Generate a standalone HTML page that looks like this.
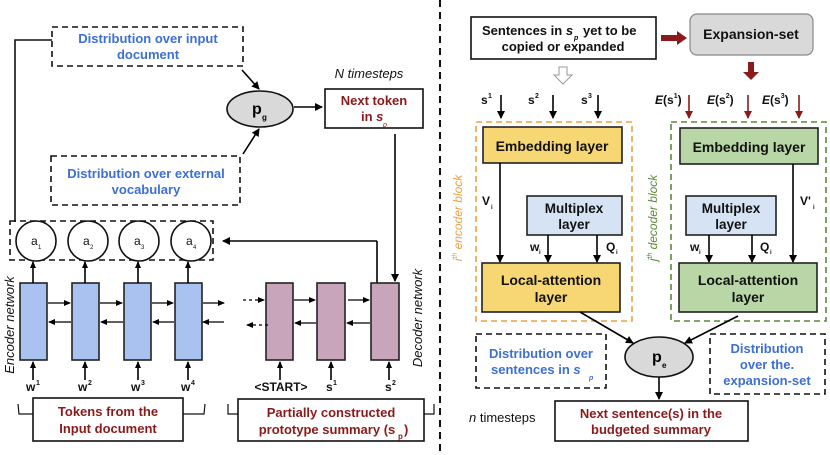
<!DOCTYPE html>
<html><head><meta charset="utf-8"><style>
html,body{margin:0;padding:0;background:#fff;}
svg{display:block;font-family:"Liberation Sans",sans-serif;font-size:13px;}
.b{font-weight:bold;}
.blue{fill:#3d6fd6;font-weight:bold;}
.red{fill:#8b1a1a;font-weight:bold;}
.blk{fill:#111;font-weight:bold;}
</style></head><body>
<svg width="830" height="455" viewBox="0 0 830 455" xmlns="http://www.w3.org/2000/svg">
<defs>
<marker id="ah" markerWidth="8" markerHeight="8" refX="7" refY="4" orient="auto" markerUnits="userSpaceOnUse"><path d="M0,0 L8,4 L0,8z" fill="#000"/></marker>
<marker id="ahs" markerWidth="7" markerHeight="6" refX="6" refY="3" orient="auto" markerUnits="userSpaceOnUse"><path d="M0,0 L7,3 L0,6z" fill="#000"/></marker>
<marker id="ahr" markerWidth="8" markerHeight="8" refX="7" refY="4" orient="auto" markerUnits="userSpaceOnUse"><path d="M0,0 L8,4 L0,8z" fill="#8b1a1a"/></marker>
</defs>

<line x1="440" y1="0" x2="440" y2="455" stroke="#111" stroke-width="2" stroke-dasharray="7,5"/>

<!-- ===== LEFT ===== -->
<rect x="52" y="27" width="191" height="39" fill="none" stroke="#111" stroke-width="1.6" stroke-dasharray="6,4"/>
<text class="blue" x="148" y="43" text-anchor="middle">Distribution over input</text>
<text class="blue" x="148" y="59" text-anchor="middle">document</text>
<polyline points="52,40 15,40 15,222" fill="none" stroke="#111" stroke-width="1.6"/>

<rect x="51" y="156" width="189" height="49" fill="none" stroke="#111" stroke-width="1.6" stroke-dasharray="6,4"/>
<text class="blue" x="146" y="178" text-anchor="middle">Distribution over external</text>
<text class="blue" x="146" y="194" text-anchor="middle">vocabulary</text>

<line x1="242" y1="70" x2="259" y2="89" stroke="#000" stroke-width="1.6" marker-end="url(#ah)"/>
<line x1="243" y1="154" x2="259" y2="129" stroke="#000" stroke-width="1.6" marker-end="url(#ah)"/>
<ellipse cx="260" cy="109" rx="33" ry="18" fill="#d9d9d9" stroke="#111" stroke-width="1.6"/>
<text x="252" y="114" class="b" font-size="16">p</text><text x="262" y="120" class="b" font-size="8">g</text>
<line x1="294" y1="107" x2="322" y2="107" stroke="#000" stroke-width="1.6" marker-end="url(#ah)"/>

<text x="369" y="78" text-anchor="middle" font-size="13" font-style="italic" fill="#111">N timesteps</text>
<rect x="325" y="89" width="98" height="39" fill="#fff" stroke="#111" stroke-width="1.6"/>
<text class="red" x="374" y="105" text-anchor="middle">Next token</text>
<text class="red" x="361" y="121">in <tspan font-style="italic">s</tspan></text>
<text x="383" y="127" fill="#8b1a1a" font-size="7" font-style="italic">p</text>
<line x1="395" y1="134" x2="395" y2="281" stroke="#000" stroke-width="1.6" marker-end="url(#ah)"/>

<rect x="10" y="221" width="203" height="39" fill="none" stroke="#111" stroke-width="1.6" stroke-dasharray="6,4"/>
<g stroke="#111" stroke-width="1.6" fill="#fff">
<circle cx="36" cy="241" r="20"/><circle cx="88" cy="241" r="20"/><circle cx="139" cy="241" r="20"/><circle cx="191" cy="241" r="20"/>
</g>
<g fill="#111"><text x="31" y="245" font-size="12">a</text><text x="38" y="249" font-size="6">1</text>
<text x="83" y="245" font-size="12">a</text><text x="90" y="249" font-size="6">2</text>
<text x="134" y="245" font-size="12">a</text><text x="141" y="249" font-size="6">3</text>
<text x="186" y="245" font-size="12">a</text><text x="193" y="249" font-size="6">4</text></g>

<polyline points="377,283 377,241" fill="none" stroke="#000" stroke-width="1.6"/>
<line x1="377" y1="241" x2="223" y2="241" stroke="#000" stroke-width="1.6" marker-end="url(#ah)"/>

<g fill="#aac2ef" stroke="#222" stroke-width="1.6">
<rect x="20" y="283" width="27" height="77"/><rect x="72" y="283" width="27" height="77"/><rect x="124" y="283" width="27" height="77"/><rect x="175" y="283" width="27" height="77"/>
</g>
<g stroke="#000" stroke-width="1.6">
<line x1="33" y1="283" x2="33" y2="262" marker-end="url(#ahs)"/><line x1="85" y1="283" x2="85" y2="262" marker-end="url(#ahs)"/><line x1="138" y1="283" x2="138" y2="262" marker-end="url(#ahs)"/><line x1="188" y1="283" x2="188" y2="262" marker-end="url(#ahs)"/>
<line x1="33" y1="380" x2="33" y2="362" marker-end="url(#ahs)"/><line x1="85" y1="380" x2="85" y2="362" marker-end="url(#ahs)"/><line x1="138" y1="380" x2="138" y2="362" marker-end="url(#ahs)"/><line x1="188" y1="380" x2="188" y2="362" marker-end="url(#ahs)"/>
</g>
<g stroke="#000" stroke-width="1.2">
<line x1="48" y1="303" x2="70" y2="303" marker-end="url(#ahs)"/><line x1="100" y1="303" x2="122" y2="303" marker-end="url(#ahs)"/><line x1="152" y1="303" x2="173" y2="303" marker-end="url(#ahs)"/><line x1="203" y1="303" x2="224" y2="303" marker-end="url(#ahs)"/>
<line x1="71" y1="322" x2="49" y2="322" marker-end="url(#ahs)"/><line x1="123" y1="322" x2="101" y2="322" marker-end="url(#ahs)"/><line x1="174" y1="322" x2="153" y2="322" marker-end="url(#ahs)"/><line x1="224" y1="322" x2="203" y2="322" marker-end="url(#ahs)"/>
</g>
<g class="blk"><text x="26" y="391" font-size="12">w</text><text x="36" y="385" font-size="7">1</text>
<text x="78" y="391" font-size="12">w</text><text x="88" y="385" font-size="7">2</text>
<text x="131" y="391" font-size="12">w</text><text x="141" y="385" font-size="7">3</text>
<text x="181" y="391" font-size="12">w</text><text x="191" y="385" font-size="7">4</text></g>
<text transform="translate(14,325) rotate(-90)" text-anchor="middle" font-size="13" font-style="italic" fill="#111">Encoder network</text>

<g fill="#c9a5bc" stroke="#222" stroke-width="1.6">
<rect x="266" y="283" width="27" height="77"/><rect x="317" y="283" width="28" height="77"/><rect x="371" y="283" width="28" height="77"/>
</g>
<g stroke="#000" stroke-width="1.2">
<line x1="243" y1="300" x2="264" y2="300" stroke-dasharray="3,3" marker-end="url(#ahs)"/>
<line x1="268" y1="325" x2="247" y2="325" stroke-dasharray="3,3" marker-end="url(#ahs)"/>
<line x1="294" y1="300" x2="315" y2="300" marker-end="url(#ahs)"/><line x1="348" y1="300" x2="369" y2="300" marker-end="url(#ahs)"/>
<line x1="316" y1="323" x2="295" y2="323" marker-end="url(#ahs)"/><line x1="370" y1="323" x2="347" y2="323" marker-end="url(#ahs)"/>
</g>
<g stroke="#000" stroke-width="1.6">
<line x1="280" y1="380" x2="280" y2="362" marker-end="url(#ahs)"/><line x1="331" y1="380" x2="331" y2="362" marker-end="url(#ahs)"/><line x1="389" y1="380" x2="389" y2="362" marker-end="url(#ahs)"/>
</g>
<text class="blk" x="281" y="391" text-anchor="middle" font-size="12">&lt;START&gt;</text>
<text class="blk" x="326" y="391" font-size="12">s</text><text class="blk" x="333" y="385" font-size="7">1</text>
<text class="blk" x="385" y="391" font-size="12">s</text><text class="blk" x="392" y="385" font-size="7">2</text>
<text transform="translate(422,318) rotate(-90)" text-anchor="middle" font-size="13" font-style="italic" fill="#111">Decoder network</text>

<polyline points="18,404 19,414 33,414" fill="none" stroke="#111" stroke-width="1.2"/>
<polyline points="183,414 204,414 205,404" fill="none" stroke="#111" stroke-width="1.2"/>
<rect x="33" y="398" width="150" height="43" fill="#fff" stroke="#111" stroke-width="1.6"/>
<text class="red" x="108" y="416" text-anchor="middle">Tokens from the</text>
<text class="red" x="108" y="433" text-anchor="middle">Input document</text>
<polyline points="228,404 228,414 238,414" fill="none" stroke="#111" stroke-width="1.2"/>
<polyline points="424,414 434,414 434,404" fill="none" stroke="#111" stroke-width="1.2"/>
<rect x="238" y="399" width="186" height="42" fill="#fff" stroke="#111" stroke-width="1.6"/>
<text class="red" x="331" y="417" text-anchor="middle">Partially constructed</text>
<text class="red" x="327" y="434" text-anchor="middle">prototype summary (s</text>
<text x="398" y="439" fill="#8b1a1a" font-size="8" font-weight="bold">p</text>
<text class="red" x="404" y="434">)</text>

<!-- ===== RIGHT ===== -->
<rect x="471" y="17" width="185" height="42" fill="#fff" stroke="#111" stroke-width="1.6"/>
<text class="blk" x="482" y="35">Sentences in <tspan font-style="italic">s</tspan></text>
<text x="574" y="40" font-size="7" font-style="italic" font-weight="bold">p</text>
<text class="blk" x="583" y="35">yet to be</text>
<text class="blk" x="563" y="51" text-anchor="middle">copied or expanded</text>

<polygon points="661,35 677,35 677,31 687,38 677,45 677,41 661,41" fill="#8b1a1a"/>
<rect x="690" y="14" width="123" height="41" rx="7" fill="#d9d9d9" stroke="#888" stroke-width="1.2"/>
<text class="blk" x="751" y="39" text-anchor="middle" font-size="14">Expansion-set</text>
<polygon points="748,62 754,62 754,72 759,72 751,80 743,72 748,72" fill="#8b1a1a"/>
<path d="M559,67 h8 v8 h5 l-9,9 l-9,-9 h5z" fill="#fff" stroke="#999" stroke-width="1"/>

<g class="blk"><text x="481" y="104" font-size="12">s</text><text x="488" y="98" font-size="7">1</text>
<text x="528" y="104" font-size="12">s</text><text x="535" y="98" font-size="7">2</text>
<text x="581" y="104" font-size="12">s</text><text x="588" y="98" font-size="7">3</text></g>
<g stroke="#000" stroke-width="1.6"><line x1="501" y1="95" x2="501" y2="118" marker-end="url(#ah)"/><line x1="553" y1="95" x2="553" y2="118" marker-end="url(#ah)"/><line x1="598" y1="95" x2="598" y2="118" marker-end="url(#ah)"/></g>
<g class="blk">
<text x="655" y="104" font-size="12"><tspan font-style="italic">E</tspan>(s<tspan font-size="7" dy="-6">1</tspan><tspan dy="6">)</tspan></text>
<text x="707" y="104" font-size="12"><tspan font-style="italic">E</tspan>(s<tspan font-size="7" dy="-6">2</tspan><tspan dy="6">)</tspan></text>
<text x="762" y="104" font-size="12"><tspan font-style="italic">E</tspan>(s<tspan font-size="7" dy="-6">3</tspan><tspan dy="6">)</tspan></text></g>
<g stroke="#8b1a1a" stroke-width="1.6"><line x1="689" y1="95" x2="689" y2="118" marker-end="url(#ahr)"/><line x1="748" y1="95" x2="748" y2="118" marker-end="url(#ahr)"/><line x1="799" y1="95" x2="799" y2="118" marker-end="url(#ahr)"/></g>

<rect x="476" y="122" width="156" height="199" fill="none" stroke="#f0a040" stroke-width="1.6" stroke-dasharray="6,4"/>
<text transform="translate(462,218) rotate(-90)" text-anchor="middle" font-size="12" font-style="italic" fill="#f0a040">i<tspan font-size="7" dy="-5">th</tspan><tspan dy="5"> encoder block</tspan></text>
<rect x="483" y="127" width="139" height="36" fill="#f7d774" stroke="#222" stroke-width="1.6"/>
<text class="blk" x="552" y="151" text-anchor="middle" font-size="14">Embedding layer</text>
<line x1="500" y1="163" x2="500" y2="262" stroke="#000" stroke-width="1.6" marker-end="url(#ah)"/>
<text class="blk" x="482" y="205" font-size="12">V</text><text class="blk" x="491" y="209" font-size="6">i</text>
<rect x="527" y="196" width="95" height="39" fill="#d6e3f4" stroke="#222" stroke-width="1.6"/>
<text class="blk" x="574" y="213" text-anchor="middle" font-size="13.5">Multiplex</text>
<text class="blk" x="574" y="229" text-anchor="middle" font-size="13.5">layer</text>
<g stroke="#000" stroke-width="1.6"><line x1="548" y1="235" x2="548" y2="262" marker-end="url(#ah)"/><line x1="597" y1="235" x2="597" y2="262" marker-end="url(#ah)"/></g>
<text class="blk" x="530" y="251" font-size="12">w</text><text class="blk" x="539" y="254" font-size="6">i</text>
<text class="blk" x="606" y="251" font-size="12">Q</text><text class="blk" x="616" y="254" font-size="6">i</text>
<rect x="482" y="263" width="138" height="49" fill="#f7d774" stroke="#222" stroke-width="1.6"/>
<text class="blk" x="551" y="285" text-anchor="middle" font-size="14">Local-attention</text>
<text class="blk" x="551" y="302" text-anchor="middle" font-size="14">layer</text>

<rect x="671" y="122" width="155" height="199" fill="none" stroke="#5a8a3a" stroke-width="1.6" stroke-dasharray="6,4"/>
<text transform="translate(657,218) rotate(-90)" text-anchor="middle" font-size="12" font-style="italic" fill="#5a8a3a">j<tspan font-size="7" dy="-5">th</tspan><tspan dy="5"> decoder block</tspan></text>
<rect x="680" y="128" width="138" height="36" fill="#b9d6a6" stroke="#222" stroke-width="1.6"/>
<text class="blk" x="749" y="152" text-anchor="middle" font-size="14">Embedding layer</text>
<line x1="793" y1="164" x2="793" y2="262" stroke="#000" stroke-width="1.6" marker-end="url(#ah)"/>
<text class="blk" x="800" y="205" font-size="12">V'</text><text class="blk" x="813" y="209" font-size="6">i</text>
<rect x="686" y="196" width="90" height="39" fill="#d6e3f4" stroke="#222" stroke-width="1.6"/>
<text class="blk" x="731" y="213" text-anchor="middle" font-size="13.5">Multiplex</text>
<text class="blk" x="731" y="229" text-anchor="middle" font-size="13.5">layer</text>
<g stroke="#000" stroke-width="1.6"><line x1="709" y1="235" x2="709" y2="262" marker-end="url(#ah)"/><line x1="752" y1="235" x2="752" y2="262" marker-end="url(#ah)"/></g>
<text class="blk" x="690" y="251" font-size="12">w</text><text class="blk" x="699" y="254" font-size="6">i</text>
<text class="blk" x="760" y="251" font-size="12">Q</text><text class="blk" x="770" y="254" font-size="6">i</text>
<rect x="679" y="263" width="138" height="49" fill="#b9d6a6" stroke="#222" stroke-width="1.6"/>
<text class="blk" x="748" y="285" text-anchor="middle" font-size="14">Local-attention</text>
<text class="blk" x="748" y="302" text-anchor="middle" font-size="14">layer</text>

<line x1="580" y1="312" x2="633" y2="343" stroke="#000" stroke-width="1.6" marker-end="url(#ah)"/>
<line x1="738" y1="316" x2="685" y2="343" stroke="#000" stroke-width="1.6" marker-end="url(#ah)"/>
<ellipse cx="659" cy="357" rx="34" ry="20" fill="#d9d9d9" stroke="#111" stroke-width="1.6"/>
<text x="652" y="362" class="b" font-size="16">p</text><text x="662" y="368" class="b" font-size="8">e</text>
<line x1="659" y1="377" x2="659" y2="399" stroke="#000" stroke-width="1.6" marker-end="url(#ah)"/>

<rect x="476" y="334" width="130" height="54" fill="none" stroke="#111" stroke-width="1.6" stroke-dasharray="6,4"/>
<text class="blue" x="541" y="358" text-anchor="middle">Distribution over</text>
<text class="blue" x="491" y="374">sentences in <tspan font-style="italic">s</tspan></text>
<text x="589" y="380" fill="#3d6fd6" font-size="7" font-style="italic" font-weight="bold">p</text>
<rect x="710" y="334" width="115" height="60" fill="none" stroke="#111" stroke-width="1.6" stroke-dasharray="6,4"/>
<text class="blue" x="767" y="353" text-anchor="middle">Distribution</text>
<text class="blue" x="767" y="369" text-anchor="middle">over the.</text>
<text class="blue" x="767" y="385" text-anchor="middle">expansion-set</text>

<text x="469" y="422" font-size="13" fill="#111"><tspan font-style="italic">n</tspan> timesteps</text>
<rect x="555" y="401" width="193" height="40" fill="#fff" stroke="#111" stroke-width="1.6"/>
<text class="red" x="651" y="418" text-anchor="middle">Next sentence(s) in the</text>
<text class="red" x="651" y="434" text-anchor="middle">budgeted summary</text>
</svg>
</body></html>
